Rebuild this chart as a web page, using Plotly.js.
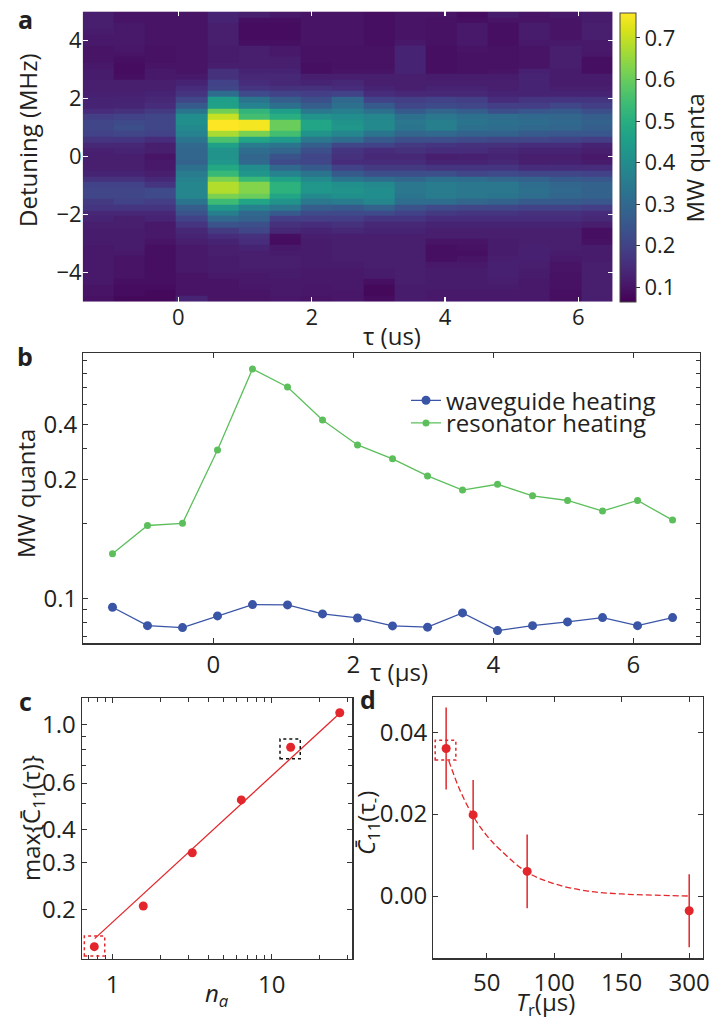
<!DOCTYPE html>
<html><head><meta charset="utf-8">
<script src="https://cdn.plot.ly/plotly-3.0.1.min.js"></script>
<style>html,body{margin:0;padding:0;background:#fff}#fig{width:711px;height:1020px}</style>
</head><body><div id="fig"></div>
<script>
// ---------- panel a : heatmap ----------
const tauA = [-1.20,-0.73,-0.27,0.20,0.67,1.14,1.60,2.07,2.54,3.01,3.47,3.94,4.41,4.87,5.34,5.81,6.28];
// detuning row centres (MHz), top -> bottom
const detA = [4.90,4.71,4.51,4.31,4.12,3.92,3.73,3.53,3.33,3.14,2.94,2.75,2.55,2.35,2.16,1.96,1.76,1.57,1.37,1.18,0.98,0.78,0.59,0.39,0.20,0,
  -0.20,-0.39,-0.59,-0.78,-0.98,-1.18,-1.37,-1.57,-1.76,-1.96,-2.16,-2.35,-2.55,-2.75,-2.94,-3.14,-3.33,-3.53,-3.73,-3.92,-4.12,-4.31,-4.51,-4.71,-4.90];
// MW quanta, one array per tau column, listed top (+4.9 MHz) -> bottom (-4.9 MHz)
const quantaCols = [
 [0.12,0.12,0.12,0.115,0.11,0.11,0.10,0.10,0.10,0.11,0.115,0.115,0.12,0.12,0.125,0.13,0.13,0.15,0.19,0.21,0.21,0.20,0.17,0.14,0.125, 0.12, 0.12,0.12,0.13,0.16,0.20,0.21,0.21,0.18,0.17,0.14,0.13,0.12,0.115,0.115,0.115,0.11,0.11,0.11,0.11,0.11,0.11,0.11,0.10,0.10,0.095],
 [0.10,0.10,0.11,0.11,0.11,0.11,0.105,0.10,0.09,0.085,0.085,0.09,0.12,0.12,0.125,0.13,0.135,0.16,0.20,0.22,0.23,0.21,0.17,0.14,0.13, 0.12, 0.12,0.12,0.13,0.16,0.20,0.21,0.21,0.20,0.17,0.14,0.12,0.12,0.115,0.115,0.115,0.115,0.11,0.10,0.10,0.10,0.10,0.09,0.085,0.085,0.08],
 [0.10,0.10,0.10,0.10,0.10,0.10,0.095,0.095,0.095,0.10,0.11,0.11,0.12,0.12,0.13,0.14,0.15,0.18,0.21,0.21,0.21,0.20,0.15,0.12,0.12, 0.10, 0.11,0.11,0.12,0.14,0.17,0.22,0.22,0.19,0.17,0.14,0.13,0.11,0.11,0.11,0.10,0.09,0.09,0.09,0.09,0.09,0.09,0.09,0.085,0.08,0.08],
 [0.10,0.10,0.10,0.10,0.10,0.10,0.10,0.10,0.10,0.10,0.10,0.11,0.13,0.15,0.17,0.21,0.26,0.33,0.40,0.41,0.39,0.37,0.33,0.30,0.29, 0.29, 0.28,0.32,0.35,0.37,0.38,0.38,0.38,0.33,0.27,0.24,0.20,0.17,0.14,0.13,0.12,0.11,0.11,0.11,0.11,0.11,0.10,0.10,0.10,0.10,0.13],
 [0.13,0.13,0.12,0.12,0.12,0.12,0.115,0.115,0.115,0.12,0.16,0.16,0.20,0.21,0.31,0.45,0.46,0.61,0.70,0.76,0.76,0.67,0.56,0.46,0.42, 0.42, 0.43,0.48,0.53,0.62,0.68,0.68,0.62,0.54,0.43,0.36,0.30,0.24,0.18,0.15,0.13,0.12,0.12,0.115,0.115,0.115,0.11,0.10,0.10,0.10,0.10],
 [0.12,0.09,0.085,0.085,0.085,0.09,0.12,0.12,0.12,0.12,0.13,0.14,0.15,0.17,0.22,0.33,0.37,0.52,0.55,0.75,0.75,0.62,0.47,0.35,0.31, 0.29, 0.30,0.40,0.43,0.53,0.63,0.63,0.60,0.47,0.37,0.30,0.28,0.23,0.21,0.16,0.15,0.13,0.12,0.12,0.12,0.115,0.11,0.11,0.105,0.10,0.10],
 [0.11,0.09,0.085,0.085,0.085,0.09,0.11,0.11,0.12,0.12,0.13,0.14,0.14,0.16,0.20,0.27,0.32,0.45,0.50,0.60,0.60,0.55,0.44,0.33,0.29, 0.24, 0.22,0.30,0.37,0.46,0.51,0.51,0.47,0.42,0.34,0.26,0.19,0.16,0.14,0.09,0.085,0.11,0.115,0.12,0.12,0.115,0.115,0.11,0.11,0.11,0.105],
 [0.10,0.10,0.10,0.10,0.10,0.10,0.095,0.095,0.095,0.09,0.09,0.12,0.13,0.16,0.19,0.23,0.27,0.34,0.42,0.47,0.47,0.42,0.34,0.27,0.23, 0.21, 0.21,0.26,0.33,0.39,0.43,0.43,0.39,0.34,0.27,0.22,0.19,0.15,0.13,0.12,0.115,0.115,0.115,0.115,0.115,0.11,0.11,0.11,0.105,0.105,0.10],
 [0.10,0.10,0.10,0.10,0.10,0.10,0.095,0.095,0.095,0.095,0.10,0.12,0.14,0.15,0.20,0.30,0.32,0.36,0.40,0.42,0.43,0.38,0.31,0.21,0.17, 0.16, 0.15,0.20,0.26,0.33,0.41,0.42,0.41,0.35,0.26,0.22,0.19,0.16,0.14,0.12,0.12,0.12,0.12,0.12,0.115,0.11,0.11,0.11,0.11,0.105,0.105],
 [0.09,0.09,0.09,0.09,0.09,0.09,0.095,0.095,0.095,0.095,0.10,0.12,0.12,0.13,0.15,0.20,0.26,0.32,0.38,0.39,0.39,0.33,0.26,0.20,0.15, 0.14, 0.15,0.18,0.23,0.31,0.39,0.40,0.40,0.38,0.28,0.22,0.17,0.14,0.13,0.12,0.12,0.12,0.12,0.12,0.12,0.115,0.115,0.09,0.08,0.08,0.085],
 [0.10,0.10,0.10,0.10,0.10,0.11,0.13,0.13,0.13,0.13,0.13,0.12,0.12,0.12,0.14,0.19,0.21,0.26,0.32,0.34,0.33,0.29,0.23,0.18,0.16, 0.14, 0.15,0.18,0.23,0.29,0.34,0.34,0.33,0.31,0.24,0.20,0.17,0.14,0.13,0.12,0.12,0.12,0.12,0.12,0.12,0.12,0.12,0.12,0.115,0.115,0.115],
 [0.10,0.095,0.095,0.095,0.095,0.095,0.09,0.09,0.09,0.09,0.09,0.115,0.12,0.13,0.14,0.20,0.22,0.29,0.34,0.36,0.36,0.30,0.23,0.17,0.15, 0.12, 0.13,0.17,0.23,0.32,0.35,0.35,0.35,0.31,0.22,0.18,0.15,0.13,0.12,0.12,0.10,0.09,0.09,0.09,0.11,0.115,0.115,0.115,0.115,0.11,0.11],
 [0.085,0.09,0.11,0.11,0.11,0.11,0.10,0.095,0.095,0.095,0.095,0.115,0.12,0.13,0.14,0.19,0.21,0.27,0.32,0.33,0.32,0.28,0.22,0.16,0.15, 0.125, 0.13,0.17,0.21,0.31,0.34,0.34,0.34,0.29,0.21,0.17,0.15,0.13,0.12,0.12,0.10,0.095,0.09,0.10,0.11,0.115,0.115,0.115,0.115,0.11,0.11],
 [0.115,0.10,0.09,0.09,0.09,0.09,0.095,0.095,0.095,0.095,0.10,0.115,0.12,0.12,0.13,0.15,0.19,0.23,0.31,0.32,0.31,0.28,0.21,0.16,0.14, 0.13, 0.14,0.17,0.22,0.29,0.34,0.34,0.33,0.28,0.21,0.17,0.15,0.13,0.12,0.12,0.115,0.115,0.115,0.12,0.125,0.125,0.125,0.12,0.115,0.11,0.11],
 [0.10,0.10,0.115,0.115,0.115,0.11,0.10,0.10,0.10,0.10,0.125,0.13,0.13,0.13,0.13,0.17,0.19,0.25,0.30,0.31,0.30,0.26,0.21,0.15,0.13, 0.12, 0.12,0.15,0.21,0.28,0.31,0.32,0.31,0.26,0.20,0.16,0.15,0.13,0.12,0.12,0.12,0.125,0.125,0.125,0.12,0.115,0.115,0.11,0.11,0.11,0.11],
 [0.11,0.10,0.10,0.10,0.10,0.11,0.12,0.12,0.12,0.12,0.115,0.115,0.115,0.12,0.13,0.17,0.21,0.26,0.29,0.30,0.29,0.25,0.20,0.15,0.13, 0.12, 0.125,0.15,0.21,0.26,0.29,0.30,0.29,0.26,0.20,0.16,0.15,0.13,0.12,0.12,0.12,0.12,0.115,0.11,0.10,0.10,0.095,0.095,0.095,0.09,0.09],
 [0.115,0.115,0.12,0.12,0.12,0.11,0.11,0.105,0.09,0.09,0.09,0.115,0.115,0.12,0.13,0.17,0.19,0.23,0.27,0.28,0.27,0.25,0.19,0.13,0.12, 0.11, 0.115,0.15,0.20,0.25,0.28,0.28,0.28,0.25,0.19,0.15,0.14,0.12,0.09,0.09,0.095,0.115,0.115,0.115,0.12,0.12,0.12,0.12,0.12,0.12,0.12]
];
const cbTicks = [0.1,0.2,0.3,0.4,0.5,0.6,0.7];

// ---------- panel b ----------
const tauB = [-1.44,-0.94,-0.44,0.06,0.56,1.06,1.56,2.06,2.56,3.06,3.56,4.06,4.56,5.06,5.56,6.06,6.56];
const waveguideHeating = [0.092,0.0776,0.0762,0.0849,0.0943,0.094,0.0865,0.0833,0.0774,0.0765,0.0873,0.0741,0.0776,0.0803,0.0836,0.0776,0.0836];
const resonatorHeating = [0.151,0.196,0.200,0.394,0.834,0.706,0.520,0.413,0.363,0.310,0.272,0.287,0.258,0.247,0.224,0.247,0.206];
const bTickVals = [0.1,0.3,0.5];
const bTickText = ['0.1','0.2','0.4'];
const bMinorVals = [0.07,0.08,0.09,0.2,0.4,0.6,0.7,0.8,0.9];

// ---------- panel c ----------
const nA = [0.766,1.557,3.167,6.44,13.16,26.8];
const maxC11 = [0.1445,0.2058,0.327,0.518,0.819,1.106];
const fitCx = [0.77,26.8];
const fitCy = [0.155,1.10];
const cXTickVals = [1,10];
const cXTickText = ['1','10'];
const cXMinorVals = [0.7,0.8,0.9,2,3,4,5,6,7,8,9,20,30];
const cYTickVals = [0.2,0.3,0.4,0.6,1.0];
const cYTickText = ['0.2','0.3','0.4','0.6','1.0'];
const cYMinorVals = [0.5,0.7,0.8,0.9];
const boxCred = [0.663,0.891,0.1332,0.1585];
const boxCblack = [11.28,15.13,0.741,0.880];

// ---------- panel d ----------
// broken axis: the 300 us point is drawn at the slot labelled "300"
const TrPos = [20,40,80,200];
const C11tau = [0.036,0.0198,0.006,-0.0036];
const C11err = [0.010,0.0085,0.009,0.0089];
const fitDx = [22,30,40,50,60,80,100,125,150,175,200];
const fitDy = [0.033,0.026,0.0195,0.0148,0.0113,0.0058,0.003,0.0012,0.0005,0.0002,0.0];
const dXTickVals = [50,100,150,200];
const dXTickText = ['50','100','150','300'];
const boxDred = [11.9,27.2,0.0332,0.038];

// ---------- build ----------
const W=711,H=1020;
const fx = v => v/W, fy = v => 1 - v/H;
const FONT = 'Open Sans, Noto Sans, sans-serif';
const TXT = '#231f20';
const RED = '#e2262b';

const zA = [];
for (let r = detA.length-1; r >= 0; r--) {
  zA.push(quantaCols.map(col => col[r]));
}
const detAsc = detA.slice().reverse();

const traces = [
 {type:'heatmap', x:tauA, y:detAsc, z:zA, colorscale:'Viridis', zmin:0.064, zmax:0.759,
  xaxis:'x', yaxis:'y', hoverinfo:'skip',
  colorbar:{x:fx(620), xanchor:'left', xpad:0, y:fy(157.8), yanchor:'middle', ypad:0,
    len:289/H, lenmode:'fraction', thickness:16, thicknessmode:'pixels',
    outlinewidth:1, outlinecolor:'#444', tickvals:cbTicks, ticks:'outside', ticklen:4,
    tickcolor:'#333', tickfont:{size:22, color:TXT, family:FONT},
    title:{text:'MW quanta', side:'right', font:{size:24, color:TXT, family:FONT}}}},
 {type:'scatter', mode:'lines+markers', x:tauB, y:waveguideHeating, name:'waveguide heating',
  xaxis:'x2', yaxis:'y2', line:{color:'#3a55a6', width:1.3}, marker:{color:'#3a55a6', size:9}, legend:'legend'},
 {type:'scatter', mode:'lines+markers', x:tauB, y:resonatorHeating, name:'resonator heating',
  xaxis:'x2', yaxis:'y2', line:{color:'#5cbf5c', width:1.3}, marker:{color:'#5cbf5c', size:7}, legend:'legend2'},
 {type:'scatter', mode:'lines', x:fitCx, y:fitCy, xaxis:'x3', yaxis:'y3', showlegend:false,
  line:{color:RED, width:1.3}},
 {type:'scatter', mode:'markers', x:nA, y:maxC11, xaxis:'x3', yaxis:'y3', showlegend:false,
  marker:{color:RED, size:9}},
 {type:'scatter', mode:'lines', x:fitDx, y:fitDy, xaxis:'x4', yaxis:'y4', showlegend:false,
  line:{color:RED, width:1.3, dash:'6px,3px', shape:'spline'}},
 {type:'scatter', mode:'markers', x:TrPos, y:C11tau, xaxis:'x4', yaxis:'y4', showlegend:false,
  marker:{color:RED, size:9},
  error_y:{type:'data', array:C11err, visible:true, color:RED, thickness:1.5, width:0}}
];

const frameAx = {showline:true, linecolor:'#333', linewidth:1.2, mirror:'ticks', ticks:'inside',
  ticklen:5, tickcolor:'#333', showgrid:false, zeroline:false};
const minorAx = vals => ({tickmode:'array', tickvals:vals, ticks:'inside', ticklen:4, tickcolor:'#333', showgrid:false});
const tf = s => ({size:s, color:TXT, family:FONT});

const layout = {
  width:W, height:H, margin:{l:0,r:0,t:0,b:0}, paper_bgcolor:'#fff', plot_bgcolor:'rgba(0,0,0,0)',
  font:{family:FONT, color:TXT},
  xaxis:{domain:[fx(82.7),fx(612.7)], anchor:'y', range:[-1.434,6.514], tickvals:[0,2,4,6],
    ticks:'inside', ticklen:5, tickwidth:1.5, tickcolor:'#fff', mirror:'ticks', showline:false,
    showgrid:false, zeroline:false, tickfont:tf(22)},
  yaxis:{domain:[fy(301.7),fy(11)], anchor:'x', range:[-5.01,5.02], tickvals:[-4,-2,0,2,4],
    ticktext:['\u22124','\u22122','0','2','4'],
    ticks:'inside', ticklen:5, tickwidth:1.5, tickcolor:'#fff', mirror:'ticks', showline:false,
    showgrid:false, zeroline:false, tickfont:tf(22)},
  xaxis2:Object.assign({}, frameAx, {domain:[fx(83.3),fx(700)], anchor:'y2', range:[-1.857,6.952],
    tickvals:[0,2,4,6], tickfont:tf(24)}),
  yaxis2:Object.assign({}, frameAx, {domain:[fy(643.3),fy(353.3)], anchor:'x2', type:'log',
    range:[Math.log10(0.0659), Math.log10(0.964)], tickvals:bTickVals, ticktext:bTickText, tickfont:tf(24),
    minor:minorAx(bMinorVals)}),
  xaxis3:Object.assign({}, frameAx, {domain:[fx(81.7),fx(352.3)], anchor:'y3', type:'log',
    range:[-0.195,1.507], tickvals:cXTickVals, ticktext:cXTickText, tickfont:tf(24),
    ticklabelstandoff:4, minor:minorAx(cXMinorVals)}),
  yaxis3:Object.assign({}, frameAx, {domain:[fy(959),fy(697.7)], anchor:'x3', type:'log',
    range:[-0.8867,0.1005], tickvals:cYTickVals, ticktext:cYTickText, tickfont:tf(24),
    minor:minorAx(cYMinorVals)}),
  xaxis4:Object.assign({}, frameAx, {domain:[fx(433.3),fx(702.7)], anchor:'y4', range:[10.5,210],
    tickvals:dXTickVals, ticktext:dXTickText, tickfont:tf(24), ticklabelstandoff:3}),
  yaxis4:Object.assign({}, frameAx, {domain:[fy(958.3),fy(697.3)], anchor:'x4', range:[-0.0152,0.0485],
    tickvals:[0,0.02,0.04], ticktext:['0.00','0.02','0.04'], tickfont:tf(24)}),
  legend:{x:fx(406), xanchor:'left', y:fy(400.7), yanchor:'middle', bgcolor:'rgba(0,0,0,0)',
    font:tf(24), borderwidth:0},
  legend2:{x:fx(406), xanchor:'left', y:fy(423.3), yanchor:'middle', bgcolor:'rgba(0,0,0,0)',
    font:tf(24), borderwidth:0},
  shapes:[
    {type:'rect', xref:'x3', yref:'y3', x0:boxCred[0], x1:boxCred[1], y0:boxCred[2], y1:boxCred[3],
      line:{color:RED, width:1.5, dash:'dot'}},
    {type:'rect', xref:'x3', yref:'y3', x0:boxCblack[0], x1:boxCblack[1], y0:boxCblack[2], y1:boxCblack[3],
      line:{color:'#111', width:1.5, dash:'dot'}},
    {type:'rect', xref:'x4', yref:'y4', x0:boxDred[0], x1:boxDred[1], y0:boxDred[2], y1:boxDred[3],
      line:{color:RED, width:1.5, dash:'dot'}}
  ],
  annotations:[
    {text:'<b>a</b>', x:fx(25), y:fy(19)},
    {text:'<b>b</b>', x:fx(25), y:fy(356)},
    {text:'<b>c</b>', x:fx(25), y:fy(701)},
    {text:'<b>d</b>', x:fx(368), y:fy(699)},
    {text:'Detuning (MHz)', x:fx(28), y:fy(140), textangle:-90},
    {text:'\u03c4 (us)', x:fx(392), y:fy(336)},
    {text:'MW quanta', x:fx(25), y:fy(494), textangle:-90},
    {text:'\u03c4 (\u03bcs)', x:fx(399), y:fy(671)},
    {text:'max{C\u0304<sub>11</sub>(\u03c4)}', x:fx(32), y:fy(818), textangle:-90},
    {text:'<i>n</i><sub><i>a</i></sub>', x:fx(217), y:fy(994)},
    {text:'<i>C\u0304</i><sub>11</sub>(\u03c4<sub>-</sub>)', x:fx(367), y:fy(823), textangle:-90},
    {text:'<i>T</i><sub>r</sub>(\u03bcs)', x:fx(545), y:fy(1003)}
  ].map(a => Object.assign({xref:'paper', yref:'paper', showarrow:false, xanchor:'center', yanchor:'middle',
      font:{size:(a.text.startsWith('<b>') ? 25 : 24), color:TXT, family:FONT}}, a))
};

Plotly.newPlot('fig', traces, layout, {staticPlot:true, displayModeBar:false});
</script></body></html>
